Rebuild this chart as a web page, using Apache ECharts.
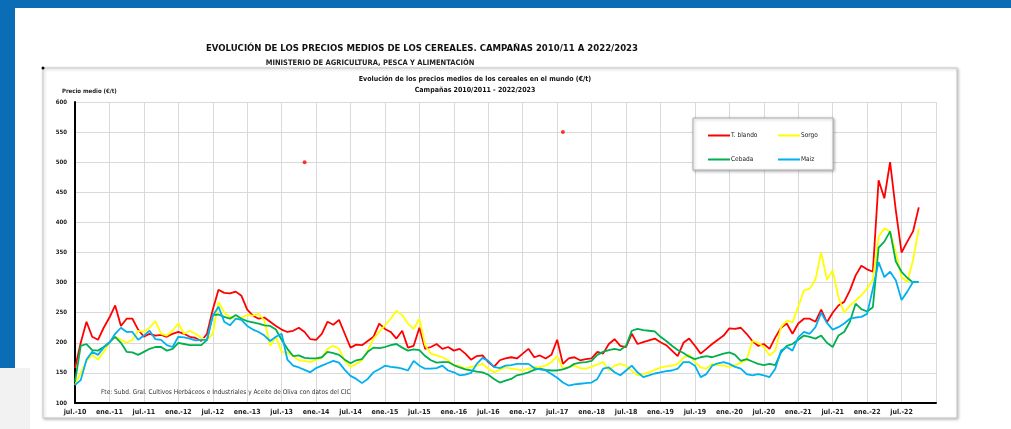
<!DOCTYPE html>
<html lang="es">
  <head>
    <meta charset="UTF-8" />
    <title>Evolución de los precios medios de los cereales</title>
    <style>
      html, body { margin: 0; padding: 0; background: #fff; }
      #main { width: 1011px; height: 429px; }
    </style>
  </head>
  <body>
    <div id="main"></div>

    <script src="https://cdnjs.cloudflare.com/ajax/libs/echarts/6.0.0/echarts.min.js"></script>
    <script>
      // meses de jul.-10 a ene.-23
      let monthNames = ['ene.', 'feb.', 'mar.', 'abr.', 'may.', 'jun.', 'jul.', 'ago.', 'sep.', 'oct.', 'nov.', 'dic.']
      let months = []
      for (let i = 0; i < 151; i++) {
        let m = (6 + i) % 12
        let y = 10 + Math.floor((6 + i) / 12)
        months.push(monthNames[m] + '-' + y)
      }

      let yTicks = [100, 150, 200, 250, 300, 350, 400, 450, 500, 550, 600]

      let trigoBlando = [
        158, 200, 235, 210, 205, 225, 242, 262, 228, 240,
        240, 222, 210, 215, 212, 213, 210, 215, 218, 215,
        210, 208, 203, 215, 255, 288, 283, 282, 285, 278,
        255, 245, 240, 242, 235, 228, 222, 218, 220, 225,
        218, 206, 205, 215, 235, 230, 238, 215, 192, 197,
        196, 203, 210, 232, 223, 218, 207, 220, 192, 195,
        225, 190, 193, 198, 190, 193, 187, 190, 182, 172,
        178, 179, 168, 160, 171, 174, 176, 174, 182, 190,
        176, 179, 174, 180, 205, 165, 174, 176, 171, 173,
        174, 185, 182, 198, 206, 195, 193, 215, 198, 201,
        204, 207, 201, 196, 187, 178, 200, 207, 195, 182,
        190, 198, 205, 212, 224, 223, 225, 215, 203, 195,
        198, 190, 209, 225, 232, 215, 232, 240, 240, 235,
        255, 234, 250, 262, 268, 287, 312, 328, 322, 318,
        470, 440, 500, 420, 350, 368, 385, 425
      ]
      let sorgo = [
        130, 150, 170, 180, 172, 185, 200, 210, 205, 200,
        205, 220, 218, 225, 236, 215, 212, 220, 232, 215,
        220, 215, 208, 205, 215, 268, 250, 243, 240, 242,
        246, 245, 248, 237, 195, 210, 185, 184, 178, 171,
        170, 168, 172, 175, 190, 195, 190, 170, 160, 165,
        171, 187, 207, 218, 229, 240, 253, 246, 232, 223,
        240, 196, 182, 179, 176, 171, 162, 162, 157, 160,
        162, 165, 157, 151, 155, 159, 157, 156, 154, 157,
        159, 160, 162, 168, 178, 157, 160, 162, 158, 157,
        160, 164, 168, 154, 162, 165, 162, 153, 146, 148,
        151, 155, 159, 161, 162, 165, 175, 180, 168, 159,
        157, 165, 163, 162, 160, 163, 167, 171, 203, 200,
        193, 179, 187, 226, 237, 234, 260, 287, 290, 305,
        350, 305, 320, 276, 250, 262, 270, 279, 290, 305,
        376, 390, 385, 350, 309, 301, 337, 390
      ]
      let cebada = [
        135, 195, 198, 188, 187, 193, 201, 210, 200, 185,
        184, 180, 185, 190, 193, 193, 187, 190, 200, 198,
        196, 196, 196, 205, 246, 247, 243, 240, 246, 240,
        236, 234, 232, 229, 228, 222, 205, 190, 178, 179,
        175, 174, 174, 176, 185, 183, 180, 172, 166, 171,
        173, 185, 192, 191, 193, 196, 198, 192, 187, 189,
        188, 178, 171, 167, 168, 168, 163, 159, 156, 154,
        152, 151, 147, 140, 134, 137, 140, 146, 148, 151,
        155, 157, 155, 154, 154, 156, 159, 165, 167, 168,
        170, 180, 185, 188, 190, 188, 195, 220, 223, 221,
        220, 219, 210, 203, 195, 188, 183, 177, 173, 176,
        178, 176, 179, 182, 184, 180, 170, 173, 169, 165,
        163, 165, 163, 184, 195, 198, 205, 212, 210, 207,
        212, 200, 193, 212, 218, 235, 265, 256, 252, 259,
        358, 368, 385, 335, 318, 308, 300
      ]
      let maiz = [
        130, 138, 172, 185, 180, 192, 200, 215, 225, 218,
        218, 205, 212, 220, 206, 205, 196, 193, 210, 209,
        207, 204, 205, 205, 245, 260, 235, 229, 240, 238,
        228, 222, 218, 212, 203, 210, 215, 172, 162, 159,
        155, 151, 158, 162, 166, 170, 167, 155, 145, 140,
        133, 140, 151, 156, 162, 160, 159, 157, 154, 170,
        162, 157, 157, 158, 162, 154, 151, 146, 147, 150,
        165, 175, 170, 160, 158, 162, 163, 165, 165, 165,
        158, 156, 154, 148, 142, 134, 129, 131, 132, 133,
        134, 140, 157, 159, 151, 146, 154, 162, 151, 143,
        146, 149, 151, 153, 154, 157, 168, 168, 162, 143,
        148, 162, 166, 168, 165, 160, 157, 148, 146, 148,
        146, 143, 157, 187, 193, 187, 209, 218, 215, 226,
        250, 233, 222, 226, 232, 240, 242, 243, 248, 290,
        334, 309, 318, 304, 271, 285, 301, 301
      ]
      // dos puntos sueltos del gráfico original: [índice de mes, valor]
      let puntosSueltos = [[40, 500], [85, 550]]

      let font = "'Liberation Sans Narrow', 'DejaVu Sans Condensed', sans-serif"

      let myChart = echarts.init(document.getElementById('main'))
      let option = {
        backgroundColor: '#fff',
        animation: false,
        textStyle: { fontFamily: font },
        title: [
          {
            text: 'EVOLUCIÓN DE LOS PRECIOS MEDIOS DE LOS CEREALES. CAMPAÑAS 2010/11 A 2022/2023',
            left: 417, top: 39, textAlign: 'center',
            textStyle: { fontSize: 9.5, fontWeight: 'bold', color: '#111', fontFamily: font }
          },
          {
            text: 'MINISTERIO DE AGRICULTURA, PESCA Y ALIMENTACIÓN',
            left: 365, top: 54, textAlign: 'center',
            textStyle: { fontSize: 7.5, fontWeight: 'bold', color: '#222', fontFamily: font }
          },
          {
            text: 'Evolución de los precios medios de los cereales en el mundo (€/t)',
            subtext: 'Campañas 2010/2011 - 2022/2023',
            left: 470, top: 71, textAlign: 'center', itemGap: 4,
            textStyle: { fontSize: 7, fontWeight: 'bold', color: '#111', fontFamily: font },
            subtextStyle: { fontSize: 7, fontWeight: 'bold', color: '#111', fontFamily: font }
          }
        ],
        graphic: [
          { type: 'rect', z: -10, shape: { x: 0, y: 0, width: 1011, height: 8 }, style: { fill: '#0b6db5' } },
          { type: 'rect', z: -10, shape: { x: 0, y: 0, width: 15, height: 368 }, style: { fill: '#0b6db5' } },
          { type: 'rect', z: -10, shape: { x: 0, y: 368, width: 30, height: 61 }, style: { fill: '#f2f2f2' } },
          {
            type: 'rect', z: -9,
            shape: { x: 43, y: 68, width: 914, height: 350 },
            style: { fill: '#fff', stroke: '#c8c8c8', lineWidth: 1, shadowBlur: 3, shadowColor: 'rgba(0,0,0,0.25)', shadowOffsetX: 1, shadowOffsetY: 1 }
          },
          { type: 'circle', shape: { cx: 43, cy: 68, r: 1.5 }, style: { fill: '#000' } },
          {
            type: 'rect', z: 5,
            shape: { x: 693, y: 118, width: 140, height: 52 },
            style: { fill: '#fff', stroke: '#b0b0b0', lineWidth: 1, shadowBlur: 3, shadowColor: 'rgba(0,0,0,0.3)', shadowOffsetX: 1, shadowOffsetY: 1 }
          },
          {
            type: 'text', left: 62, top: 88,
            style: { text: 'Precio medio (€/t)', fontSize: 6, fontWeight: 'bold', fill: '#222', fontFamily: font }
          },
          {
            type: 'text', left: 101, top: 389, z: 6,
            style: { text: 'Fte: Subd. Gral. Cultivos Herbáceos e Industriales y Aceite de Oliva con datos del CIC', fontSize: 6.5, fill: '#333', fontFamily: font }
          }
        ],
        legend: [
          {
            data: ['T. blando', 'Cebada'],
            orient: 'vertical', left: 703, top: 127, itemGap: 17, z: 6,
            icon: 'rect', itemWidth: 22, itemHeight: 2,
            textStyle: { fontSize: 6.5, color: '#222', padding: [0, 0, 0, -4] }
          },
          {
            data: ['Sorgo', 'Maiz'],
            orient: 'vertical', left: 773, top: 127, itemGap: 17, z: 6,
            icon: 'rect', itemWidth: 22, itemHeight: 2,
            textStyle: { fontSize: 6.5, color: '#222', padding: [0, 0, 0, -4] }
          }
        ],
        grid: { left: 75, top: 102, right: 75, bottom: 26, containLabel: false },
        xAxis: {
          type: 'category',
          data: months,
          boundaryGap: false,
          axisLine: { lineStyle: { color: '#000', width: 2 } },
          axisTick: { show: false },
          axisLabel: {
            interval: 5, fontSize: 7, fontWeight: 'bold', color: '#222', margin: 6,
            formatter: function (val, idx) { return idx === months.length - 1 ? '' : val }
          },
          splitLine: { show: true, interval: 5, lineStyle: { color: '#d9d9d9', width: 1 } }
        },
        yAxis: {
          type: 'value',
          min: yTicks[0], max: yTicks[yTicks.length - 1], interval: 50,
          axisLine: { show: true, lineStyle: { color: '#000', width: 2 } },
          axisTick: { show: false },
          axisLabel: { fontSize: 6, fontWeight: 'bold', color: '#222', margin: 8 },
          splitLine: { lineStyle: { color: '#d9d9d9', width: 1 } }
        },
        series: [
          { name: 'T. blando', type: 'line', data: trigoBlando, showSymbol: false, color: '#ff0000', lineStyle: { width: 1.8 } },
          { name: 'Sorgo', type: 'line', data: sorgo, showSymbol: false, color: '#ffff00', lineStyle: { width: 1.8 } },
          { name: 'Cebada', type: 'line', data: cebada, showSymbol: false, color: '#00b050', lineStyle: { width: 1.8 } },
          { name: 'Maiz', type: 'line', data: maiz, showSymbol: false, color: '#00b0f0', lineStyle: { width: 1.8 } },
          { name: 'puntos', type: 'scatter', data: puntosSueltos, symbolSize: 4, color: '#ff0000' }
        ]
      }
      myChart.setOption(option)
    </script>
  </body>
</html>
